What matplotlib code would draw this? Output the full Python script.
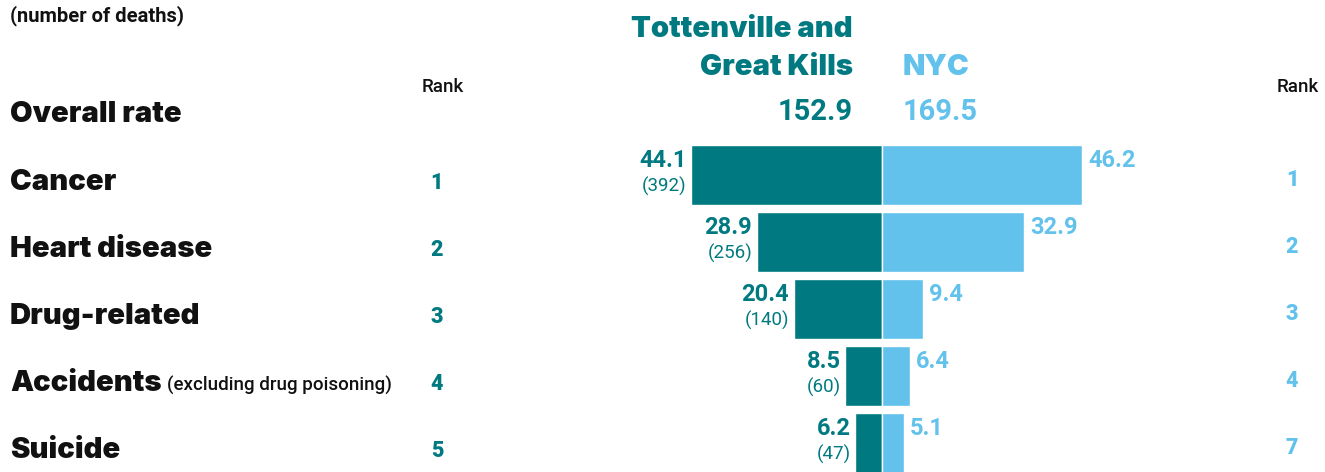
import numpy as np
import matplotlib.pyplot as plt

causes = ['Cancer', 'Heart disease', 'Drug-related', 'Accidents', 'Suicide']
cause_notes = ['', '', '', '(excluding drug poisoning)', '']
local_rate = [44.1, 28.9, 20.4, 8.5, 6.2]
local_deaths = [392, 256, 140, 60, 47]
nyc_rate = [46.2, 32.9, 9.4, 6.4, 5.1]
local_rank = [1, 2, 3, 4, 5]
nyc_rank = [1, 2, 3, 4, 7]
overall_local = 152.9
overall_nyc = 169.5

TEAL = '#007a80'
BLUE = '#62c2ec'
INK = '#111111'
HEAD = ['Inter', 'DejaVu Sans']
NUM = ['Roboto', 'DejaVu Sans']

# layout in pixels: 4.33 px per unit of rate, rows 67 px apart
W, H = 1325, 472
SCALE = 4.33
CX = 882
ROW = 67
Y0 = 175


def xd(px):
    return (px - CX) / SCALE


def yd(py):
    return (py - Y0) / ROW


fig = plt.figure(figsize=(W / 100, H / 100), dpi=100)
ax = fig.add_axes([0, 0, 1, 1])
ax.set_xlim(xd(0), xd(W))
ax.set_ylim(yd(H), yd(0))
ax.axis('off')

rows = np.arange(len(causes))
local = np.array(local_rate)
nyc = np.array(nyc_rate)
ax.barh(rows, -local, height=0.9, color=TEAL, edgecolor='white', linewidth=1)
ax.barh(rows, nyc, height=0.9, color=BLUE, edgecolor='white', linewidth=1)

# header
ax.text(xd(10), yd(21), '(number of deaths)', fontsize=14.5, fontweight='bold',
        color=INK, family=NUM, va='baseline', ha='left')
ax.text(xd(853), yd(37), 'Tottenville and', fontsize=21, fontweight='black',
        color=TEAL, family=HEAD, va='baseline', ha='right')
ax.text(xd(853), yd(75), 'Great Kills', fontsize=21, fontweight='black',
        color=TEAL, family=HEAD, va='baseline', ha='right')
ax.text(xd(903), yd(75), 'NYC', fontsize=21, fontweight='black',
        color=BLUE, family=HEAD, va='baseline', ha='left')
ax.text(xd(853), yd(120), f'{overall_local}', fontsize=21, fontweight='bold',
        color=TEAL, family=NUM, va='baseline', ha='right')
ax.text(xd(903), yd(120), f'{overall_nyc}', fontsize=21, fontweight='bold',
        color=BLUE, family=NUM, va='baseline', ha='left')
ax.text(xd(10), yd(122), 'Overall rate', fontsize=21, fontweight='black',
        color=INK, family=HEAD, va='baseline', ha='left')
ax.text(xd(443), yd(92), 'Rank', fontsize=13.5, fontweight='medium', color=INK,
        family=NUM, va='baseline', ha='center')
ax.text(xd(1298), yd(92), 'Rank', fontsize=13.5, fontweight='medium', color=INK,
        family=NUM, va='baseline', ha='center')

for i, name in enumerate(causes):
    base = i + yd(Y0 + 15)
    t = ax.text(xd(10), base, name, fontsize=21, fontweight='black',
                color=INK, family=HEAD, va='baseline', ha='left')
    if cause_notes[i]:
        # put the note just after the end of the bold label
        fig.canvas.draw()
        x_end = ax.transData.inverted().transform(
            (t.get_window_extent().x1, 0))[0]
        ax.text(x_end + 5 / SCALE, base, cause_notes[i], fontsize=13.5,
                fontweight='medium', color=INK, family=NUM,
                va='baseline', ha='left')

    ax.text(xd(437), i + yd(Y0 + 14), str(local_rank[i]), fontsize=15.5,
            fontweight='black', color=TEAL, family=NUM, va='baseline', ha='center')
    ax.text(xd(1292), i + yd(Y0 + 11), str(nyc_rank[i]), fontsize=15.5,
            fontweight='black', color=BLUE, family=NUM, va='baseline', ha='center')

    # value labels
    ax.text(-local[i] - 1.1, i - 0.22, f'{local[i]}', fontsize=17,
            fontweight='bold', color=TEAL, family=NUM, va='center', ha='right')
    ax.text(-local[i] - 1.1, i + 0.17, f'({local_deaths[i]})', fontsize=13.5,
            color=TEAL, family=NUM, va='center', ha='right')
    ax.text(nyc[i] + 1.4, i - 0.22, f'{nyc[i]}', fontsize=17,
            fontweight='bold', color=BLUE, family=NUM, va='center', ha='left')

fig.savefig('out.png', dpi=100)
